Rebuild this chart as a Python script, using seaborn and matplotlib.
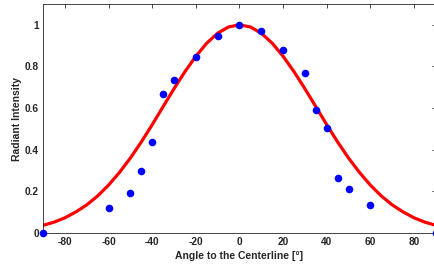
import numpy as np
import pandas as pd
import matplotlib
matplotlib.use("Agg")
import matplotlib.pyplot as plt
import seaborn as sns

# measured points
angle = [-90, -60, -50, -45, -40, -35, -30, -20, -10, 0, 10, 20, 30, 35, 40, 45, 50, 60, 90]
intensity = [0.0, 0.12, 0.19, 0.30, 0.435, 0.67, 0.735, 0.845, 0.945, 1.0, 0.97,
             0.88, 0.77, 0.59, 0.505, 0.265, 0.21, 0.135, 0.0]

# fitted curve
fit_angle = [-90, -85, -80, -75, -70, -65, -60, -55, -50, -45, -40, -35, -30, -25, -20,
             -15, -10, -5, 0, 5, 10, 15, 20, 25, 30, 35, 40, 45, 50, 55, 60, 65, 70,
             75, 80, 85, 90]
fit_intensity = [0.037, 0.052, 0.073, 0.101, 0.135, 0.178, 0.230, 0.291, 0.360, 0.437,
                 0.520, 0.607, 0.693, 0.775, 0.849, 0.912, 0.960, 0.990, 1.0, 0.990,
                 0.960, 0.912, 0.849, 0.775, 0.693, 0.607, 0.520, 0.437, 0.360, 0.291,
                 0.230, 0.178, 0.135, 0.101, 0.073, 0.052, 0.037]

xticks = [-80, -60, -40, -20, 0, 20, 40, 60, 80]
yticks = [0, 0.2, 0.4, 0.6, 0.8, 1]

sns.set_style("white")
plt.rcParams['font.family'] = ['Liberation Sans', 'DejaVu Sans']

pts = pd.DataFrame({'angle': angle, 'intensity': intensity})
fit = pd.DataFrame({'angle': fit_angle, 'intensity': fit_intensity})

fig = plt.figure(figsize=(4.35, 2.7), dpi=100)
ax = fig.add_axes([0.099, 0.137, 0.903, 0.848])

sns.lineplot(data=fit, x='angle', y='intensity', color=(1, 0, 0), linewidth=2.3,
             ax=ax, zorder=2)
sns.scatterplot(data=pts, x='angle', y='intensity', color=(0, 0, 1), s=30,
                edgecolor=(0, 0, 1), linewidth=0, ax=ax, zorder=3, clip_on=False)

ax.set_xlim(-90, 90)
ax.set_ylim(0, 1.1)
ax.set_xticks(xticks)
ax.set_xticklabels([str(t) for t in xticks])
ax.set_yticks(yticks)
ax.set_yticklabels(['0', '0.2', '0.4', '0.6', '0.8', '1'])

for s in ax.spines.values():
    s.set_color('#262626')
    s.set_linewidth(0.6)

ax.tick_params(direction='in', length=3, width=0.6, color='#262626',
               top=True, right=True, labelsize=7.3, labelcolor='#262626', pad=3)
for lab in ax.get_xticklabels() + ax.get_yticklabels():
    lab.set_fontweight('bold')

ax.set_xlabel('Angle to the Centerline [°]', fontsize=7.5, fontweight='bold',
              color='#262626', labelpad=3)
ax.set_ylabel('Radiant Intensity', fontsize=7.5, fontweight='bold',
              color='#262626', labelpad=2)

fig.savefig('out.png', dpi=100)
